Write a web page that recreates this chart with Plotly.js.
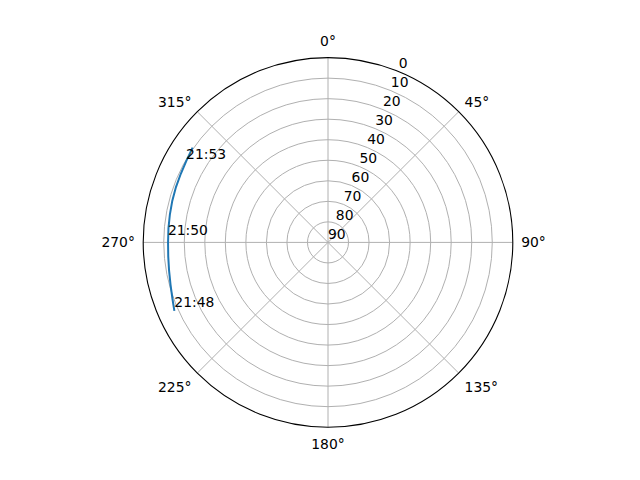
<!DOCTYPE html>
<html>
<head>
<meta charset="utf-8">
<script src="https://cdn.plot.ly/plotly-3.0.1.min.js"></script>
<style>
  html, body { margin: 0; padding: 0; background: #fff; }
  #chart { width: 640px; height: 480px; }
</style>
</head>
<body>
<div id="chart"></div>
<script>
// satellite pass, azimuth (deg, clockwise from N) vs elevation (deg)
const azimuth = [246, 250, 255, 260, 265, 270, 275, 280, 285, 290, 295, 300, 305];
const elevation = [8.1, 9.4, 10.6, 11.4, 11.9, 12.1, 12.0, 11.8, 11.5, 11.2, 10.9, 10.4, 9.5];

// time labels along the track
const labelTimes = ['21:48', '21:50', '21:53'];
const labelAz = [246, 271.5, 299.5];
const labelEl = [8.1, 12.0, 10.6];

// elevation ring labels, drawn along the 22.5 deg spoke like matplotlib does
const ringTicks = [0, 10, 20, 30, 40, 50, 60, 70, 80, 90];
const ringLabelAz = 22.5;

const font = { family: 'DejaVu Sans, sans-serif', size: 13.9, color: '#000' };

const traces = [
  {
    type: 'scatterpolar',
    mode: 'lines',
    theta: azimuth,
    r: elevation,
    line: { color: '#1f77b4', width: 2 },
    hoverinfo: 'skip'
  },
  {
    type: 'scatterpolar',
    mode: 'text',
    theta: labelAz,
    r: labelEl,
    text: labelTimes,
    textposition: 'top right',
    textfont: font,
    hoverinfo: 'skip'
  },
  {
    type: 'scatterpolar',
    mode: 'text',
    theta: ringTicks.map(() => ringLabelAz),
    r: ringTicks,
    text: ringTicks.map(String),
    textposition: 'top right',
    textfont: font,
    cliponaxis: false,
    hoverinfo: 'skip'
  }
];

const layout = {
  width: 640,
  height: 480,
  margin: { l: 0, r: 0, t: 0, b: 0 },
  paper_bgcolor: '#fff',
  showlegend: false,
  font: font,
  polar: {
    domain: { x: [0.125, 0.9], y: [0.11, 0.88] },
    bgcolor: '#fff',
    angularaxis: {
      rotation: 90,
      direction: 'clockwise',
      dtick: 45,
      ticksuffix: '°',
      // invisible ticks just to push the labels out a little
      ticks: 'outside',
      ticklen: 5,
      tickcolor: 'rgba(0,0,0,0)',
      showline: true,
      linecolor: '#000',
      linewidth: 1.1,
      gridcolor: '#b0b0b0',
      gridwidth: 1,
      tickfont: font
    },
    radialaxis: {
      range: [90, 0],
      tick0: 0,
      dtick: 10,
      showticklabels: false,
      showline: false,
      ticks: '',
      gridcolor: '#b0b0b0',
      gridwidth: 1
    }
  }
};

Plotly.newPlot('chart', traces, layout, { staticPlot: true });
</script>
</body>
</html>
